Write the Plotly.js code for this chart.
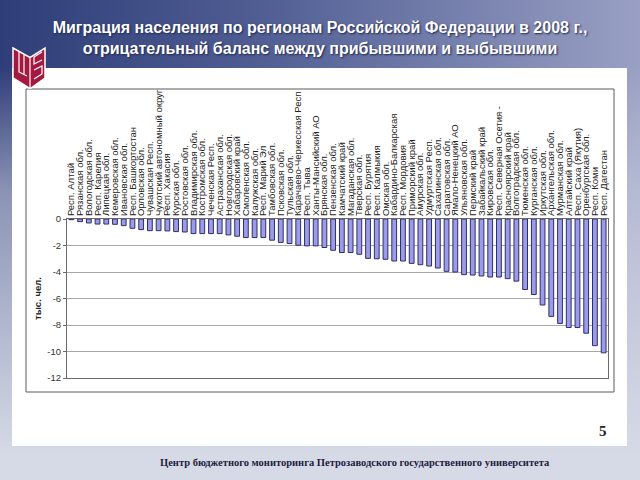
<!DOCTYPE html>
<html>
<head>
<meta charset="utf-8">
<script src="https://cdn.plot.ly/plotly-3.0.1.min.js"></script>
<style>
  html, body { margin:0; padding:0; }
  body {
    width:640px; height:480px; overflow:hidden;
    background:
      linear-gradient(180deg, rgba(212,216,229,0) 0%, rgba(212,216,229,0) 14%, rgba(200,205,222,0.6) 40%, rgba(214,218,230,1) 95%),
      linear-gradient(90deg, #2f3d78 0%, #4f5d93 40%, #9aa0c4 100%);
  }
  #chart { width:640px; height:480px; }
</style>
</head>
<body>
<div id="chart"></div>
<script>
const categories = [
  "Респ. Алтай","Рязанская обл.","Вологодская обл.","Респ. Карелия","Липецкая обл.",
  "Кемеровская обл.","Ивановская обл.","Респ. Башкортостан","Орловская обл.","Чувашская Респ.",
  "Чукотский автономный округ","Респ. Хакасия","Курская обл.","Ростовская обл.","Владимирская обл.",
  "Костромская обл.","Чеченская Респ.","Астраханская обл.","Новгородская обл.","Хабаровский край",
  "Смоленская обл.","Калужская обл.","Респ. Марий Эл","Тамбовская обл.","Псковская обл.",
  "Тульская обл.","Карачаево-Черкесская Респ","Респ. Тыва","Ханты-Мансийский АО","Брянская обл.",
  "Пензенская обл.","Камчатский край","Магаданская обл.","Тверская обл.","Респ. Бурятия",
  "Респ. Калмыкия","Омская обл.","Кабардино-Балкарская","Респ. Мордовия","Приморский край",
  "Амурская обл.","Удмуртская Респ.","Сахалинская обл.","Саратовская обл.","Ямало-Ненецкий АО",
  "Ульяновская обл.","Пермский край","Забайкальский край","Кировская обл.","Респ. Северная Осетия -",
  "Красноярский край","Волгоградская обл.","Тюменская обл.","Курганская обл.","Иркутская обл.",
  "Архангельская обл.","Мурманская обл.","Алтайский край","Респ. Саха (Якутия)","Оренбургская обл.",
  "Респ. Коми","Респ. Дагестан"
];
const balance = [
  -0.05,-0.2,-0.3,-0.38,-0.38,-0.4,-0.5,-0.7,-0.8,-0.88,
  -0.88,-0.9,-0.95,-0.98,-1.1,-1.1,-1.1,-1.1,-1.2,-1.3,
  -1.4,-1.4,-1.4,-1.6,-1.77,-1.85,-1.98,-2.03,-2.03,-2.15,
  -2.36,-2.53,-2.53,-2.66,-2.97,-3.0,-3.04,-3.17,-3.17,-3.35,
  -3.45,-3.55,-3.7,-3.95,-4.0,-4.2,-4.23,-4.3,-4.38,-4.38,
  -4.5,-4.69,-5.32,-5.7,-6.49,-7.35,-7.88,-8.19,-8.19,-8.62,
  -9.56,-10.1
];
const yTickVals = [0,-2,-4,-6,-8,-10,-12];
const yTickText = ["0","-2","-4","-6","-8","-10","-12"];
const titleText = "Миграция населения по регионам Российской Федерации в 2008 г.,<br>отрицательный баланс между прибывшими и выбывшими";
const yTitle = "тыс. чел.";
const footerText = "Центр бюджетного мониторинга Петрозаводского государственного университета";
const pageNum = "5";

// pixel -> paper conversion (plot area 67..608 x 219..378)
const L=67, R=608, T=219, B=378;
const px = x => (x-L)/(R-L);
const py = y => (B-y)/(B-T);
const pathFrom = pts => 'M' + pts.map(p => px(p[0]).toFixed(5)+','+py(p[1]).toFixed(5)).join(' L') + ' Z';
const lineFrom = pts => 'M' + pts.map(p => px(p[0]).toFixed(5)+','+py(p[1]).toFixed(5)).join(' L');

const shapes = [
  {type:'rect', xref:'paper', yref:'paper', x0:px(12), x1:px(627), y0:py(446), y1:py(68),
   fillcolor:'#ffffff', line:{width:0}, layer:'below'},
  {type:'rect', xref:'paper', yref:'paper', x0:px(26), x1:px(614), y0:py(392), y1:py(89),
   fillcolor:'rgba(0,0,0,0)', line:{color:'#5a5a5a', width:1}, layer:'below'},
  {type:'path', xref:'paper', yref:'paper',
   path: pathFrom([[13,48],[29,57],[31,57],[45,48],[45,78],[31,88],[29,88],[13,78]]),
   fillcolor:'#a3193f', line:{color:'#ffffff', width:1.5}},
  {type:'path', xref:'paper', yref:'paper', path: lineFrom([[30,57],[30,88]]), line:{color:'#ffffff', width:1.2}},
  {type:'path', xref:'paper', yref:'paper', path: lineFrom([[19,52],[19,72],[27,76]]), line:{color:'#ffffff', width:1.2}},
  {type:'path', xref:'paper', yref:'paper', path: lineFrom([[24,55],[24,74]]), line:{color:'#ffffff', width:1.2}},
  {type:'path', xref:'paper', yref:'paper', path: lineFrom([[42,52],[34,57],[34,64],[42,60]]), line:{color:'#ffffff', width:1.2}},
  {type:'path', xref:'paper', yref:'paper', path: lineFrom([[34,70],[42,66],[42,74],[34,79]]), line:{color:'#ffffff', width:1.2}}
];

const trace = {
  type:'bar',
  x: categories,
  y: balance,
  marker:{color:'#9b9bea', line:{color:'#2f2f66', width:1}},
  hoverinfo:'x+y'
};

const layout = {
  width:640, height:480,
  margin:{l:L, r:640-R, t:T, b:480-B, pad:0},
  paper_bgcolor:'rgba(0,0,0,0)',
  plot_bgcolor:'#ffffff',
  showlegend:false,
  bargap:0.45,
  font:{family:'"Liberation Sans", Arial, sans-serif', color:'#222'},
  title:{
    text:titleText,
    xref:'container', yref:'container', x:0.5, xanchor:'center', y:1-33/480, yanchor:'middle',
    font:{family:'"Liberation Sans", Arial, sans-serif', size:16, color:'#ffffff', weight:'bold',
          shadow:'1px 1px 2px #1c2550'}
  },
  xaxis:{
    type:'category', side:'top', tickangle:-90,
    tickmode:'linear', tick0:0, dtick:1,
    tickfont:{size:9.5, color:'#222'},
    showgrid:false, showline:true, linecolor:'#6a6a6a', linewidth:1, mirror:true,
    ticks:'', automargin:false, fixedrange:true
  },
  yaxis:{
    range:[-12,0], tickvals:yTickVals, ticktext:yTickText,
    tickfont:{size:9.5, color:'#333'},
    ticks:'outside', ticklen:3, tickcolor:'#666',
    showline:true, linecolor:'#6a6a6a', linewidth:1, mirror:true,
    showgrid:true, gridcolor:'#a8a8a8', gridwidth:1, zeroline:false,
    automargin:false, fixedrange:true,
    title:{text:yTitle, font:{size:9.5, color:'#222', weight:'bold'}, standoff:4}
  },
  shapes:shapes,
  annotations:[
    {xref:'paper', yref:'paper', x:px(603), y:py(431), text:pageNum, showarrow:false,
     xanchor:'center', yanchor:'middle',
     font:{family:'"Liberation Serif", "Times New Roman", serif', size:15, color:'#222', weight:'bold'}},
    {xref:'paper', yref:'paper', x:px(355), y:py(462), text:footerText, showarrow:false,
     xanchor:'center', yanchor:'middle',
     font:{family:'"Liberation Serif", "Times New Roman", serif', size:10.5, color:'#1e2040', weight:'bold'}}
  ]
};

Plotly.newPlot('chart', [trace], layout, {staticPlot:true, displayModeBar:false});
</script>
</body>
</html>
